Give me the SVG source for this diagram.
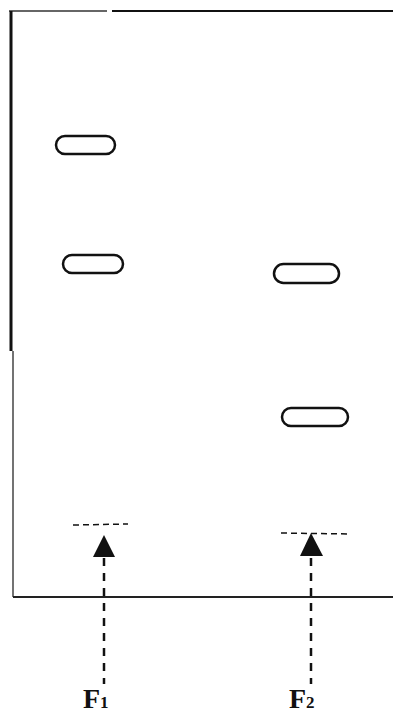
<svg xmlns="http://www.w3.org/2000/svg" width="393" height="715" viewBox="0 0 393 715">
<style>
.spot{fill:none;stroke:#111;stroke-width:2.5}
.dash{fill:none;stroke:#111;stroke-width:2.5;stroke-dasharray:8 7}
.ref{fill:none;stroke:#111;stroke-width:1.5;stroke-dasharray:6 4}
.lbl{font-family:"Liberation Serif",serif;font-weight:bold;fill:#111}
</style>
<rect width="393" height="715" fill="#fff"/>
<g id="plate">
<line x1="9" y1="11" x2="107" y2="11" stroke="#333" stroke-width="1.5"/>
<line x1="112" y1="11" x2="393" y2="11" stroke="#111" stroke-width="2.2"/>
<line x1="11" y1="11" x2="11" y2="351" stroke="#111" stroke-width="3"/>
<line x1="13" y1="351" x2="13" y2="597" stroke="#444" stroke-width="1.5"/>
<line x1="13" y1="597" x2="393" y2="597" stroke="#222" stroke-width="2"/>
</g>
<g id="spot1"><rect class="spot" x="56" y="136" width="59" height="18" rx="9"/></g>
<g id="spot2"><rect class="spot" x="63" y="255" width="60" height="18" rx="9"/></g>
<g id="spot3"><rect class="spot" x="274" y="264" width="65" height="19" rx="9.5"/></g>
<g id="spot4"><rect class="spot" x="282" y="408" width="66" height="18" rx="9"/></g>
<g id="connectors">
<line class="ref" x1="73" y1="525" x2="128" y2="524"/>
<line class="ref" x1="281" y1="533" x2="350" y2="534"/>
<line class="dash" x1="104" y1="558" x2="104" y2="684"/>
<line class="dash" x1="311" y1="558" x2="311" y2="684"/>
<polygon points="104,535 93,557 115,557" fill="#111"/>
<polygon points="311,533 300,556 323,556" fill="#111"/>
</g>
<g id="F1"><text class="lbl" x="83" y="708" font-size="28">F<tspan font-size="17">1</tspan></text></g>
<g id="F2"><text class="lbl" x="289" y="708" font-size="28">F<tspan font-size="17">2</tspan></text></g>
</svg>
